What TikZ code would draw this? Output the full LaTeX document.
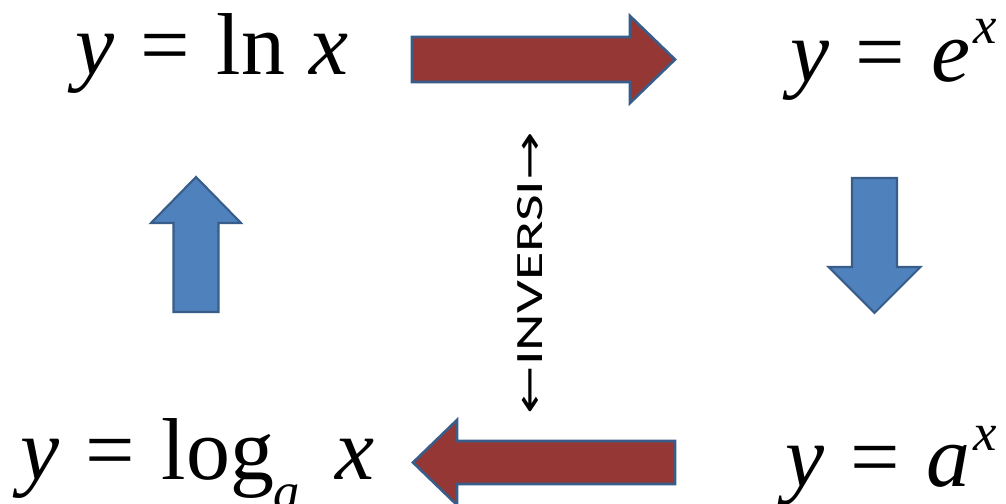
\documentclass[tikz,border=0pt]{standalone}
\usepackage{fontspec}
\setmainfont{Liberation Serif}
\newfontfamily\labelfont{Carlito}
\newfontfamily\arrowfont{DejaVu Sans}
\usetikzlibrary{positioning}
\definecolor{arrowred}{RGB}{149,55,53}
\definecolor{arrowblue}{RGB}{79,129,189}
\definecolor{edgeblue}{RGB}{56,93,138}
\newcommand{\var}[1]{\textit{#1}}
\newcommand{\eqs}{\hspace{0.3em}=\hspace{0.3em}}
\newcommand{\supx}[1]{\raisebox{#1}{\fontsize{30}{36}\selectfont\textit{x}}}
\tikzset{
  formula/.style={anchor=base west, inner sep=0pt, font=\fontsize{50}{60}\selectfont},
  redblock/.style={fill=arrowred, draw=edgeblue, line width=1.5pt, line join=miter},
  blueblock/.style={fill=arrowblue, draw=edgeblue, line width=1.2pt, line join=miter}
}

\begin{document}
\begin{tikzpicture}
        \useasboundingbox (0,0) rectangle (20.12,10.08);

        % --- Fonctions ---
        \node[formula] (lnx) at (1.5,8.58) {\var{y}\eqs ln\hspace{0.28em}\var{x}};
        \node[formula] (ex) at (15.8,8.44) {\var{y}\eqs\var{e}\hspace{0.03em}\supx{0.44em}};
        \node[formula] (logx) at (0.4,0.48) {\var{y}\eqs log\raisebox{-0.34em}{\fontsize{30}{36}\selectfont\textit{a}}\hspace{0.4em}\var{x}};
        \node[formula] (ax) at (15.7,0.34) {\var{y}\eqs\var{a}\hspace{0.03em}\supx{0.42em}};

        % --- Fleches rouges ---
        \draw[redblock] (8.24,8.44) -- (12.6,8.44) -- (12.6,8.02) -- (13.5,8.89)
            -- (12.6,9.76) -- (12.6,9.34) -- (8.24,9.34) -- cycle;
        \draw[redblock] (13.5,0.40) -- (9.14,0.40) -- (9.14,-0.02) -- (8.26,0.83)
            -- (9.14,1.68) -- (9.14,1.26) -- (13.5,1.26) -- cycle;

        % --- Fleches bleues ---
        \draw[blueblock] (3.47,3.84) -- (3.47,5.62) -- (3.02,5.62) -- (3.92,6.54)
            -- (4.82,5.62) -- (4.37,5.62) -- (4.37,3.84) -- cycle;
        \draw[blueblock] (17.04,6.52) -- (17.04,4.74) -- (16.57,4.74) -- (17.49,3.82)
            -- (18.41,4.74) -- (17.94,4.74) -- (17.94,6.52) -- cycle;

        % --- Etiquette ---
        \node[rotate=90, inner sep=0pt] (inv) at (10.6,4.62)
            {\scalebox{1.5}[1]{\fontsize{22}{26}\selectfont\arrowfont ←\labelfont INVERSI\arrowfont →}};
    \end{tikzpicture}
\end{document}
